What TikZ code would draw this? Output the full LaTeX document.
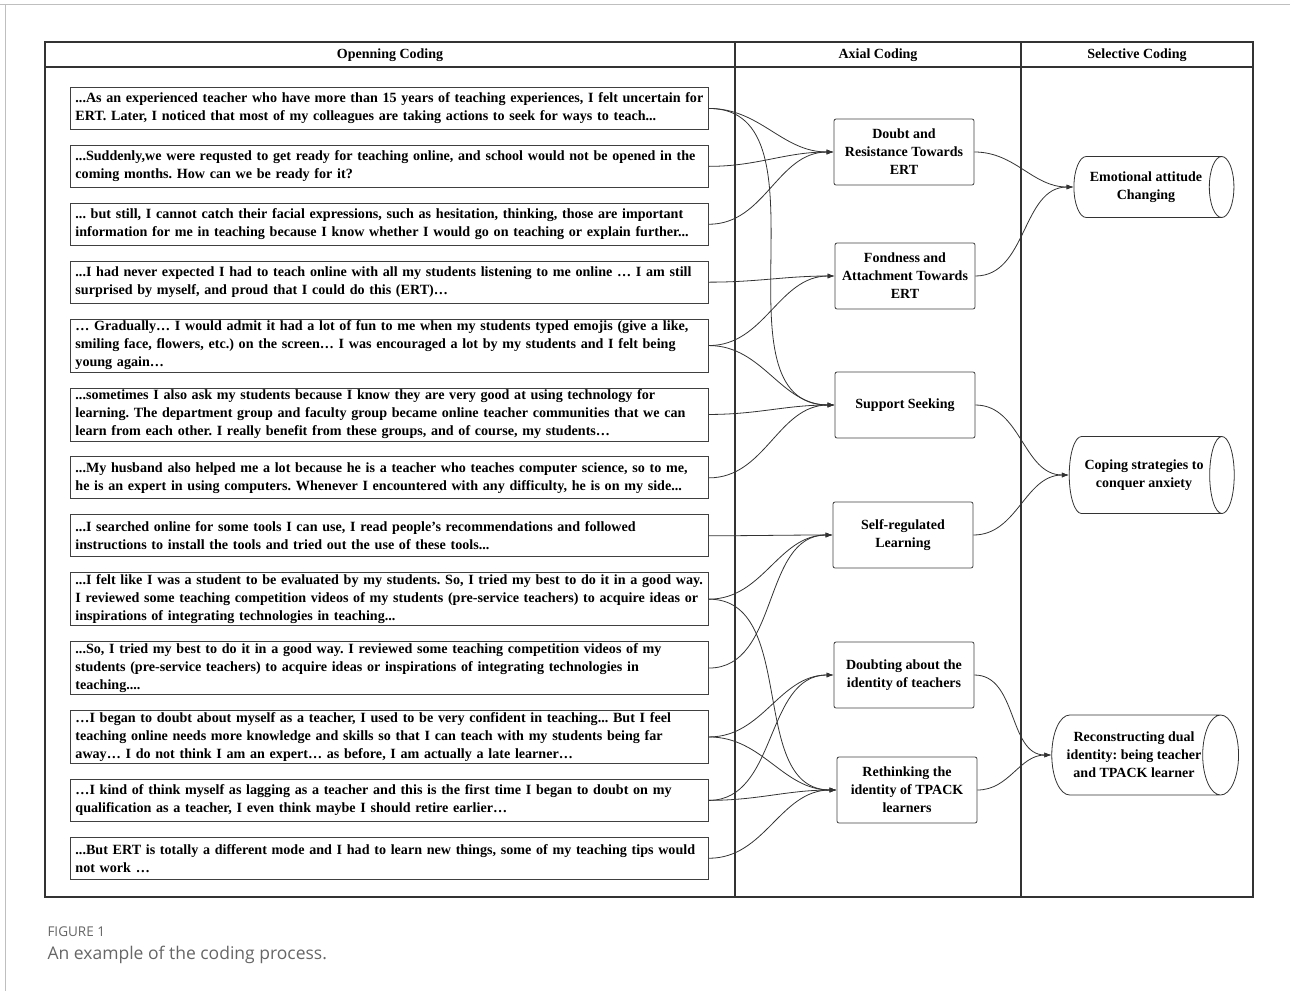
\documentclass[tikz,border=0pt]{standalone}
\usepackage{fontspec}
\setmainfont{Liberation Serif}
\newfontfamily\capfont{Open Sans}
\usetikzlibrary{positioning,arrows.meta,shapes.geometric}
\frenchspacing

\tikzset{
	quotebox/.style={draw=black!75, line width=0.9pt, anchor=north, text width=628pt, inner xsep=5pt, inner ysep=1pt, minimum height=42pt, align=left, font=\fontsize{14.1}{18}\selectfont\bfseries},
	tallquote/.style={quotebox, minimum height=53pt},
	axial/.style={draw=black!75, line width=0.8pt, rounded corners=2pt, minimum width=140pt, minimum height=66pt, inner sep=1pt, align=center, font=\fontsize{14}{18}\selectfont\bfseries},
	selective/.style={cylinder, draw=black!80, line width=0.8pt, aspect=0.75, inner sep=1pt, align=center, font=\fontsize{14}{18}\selectfont\bfseries},
	conn/.style={draw=black!80, line width=0.8pt, -{Latex[length=7pt,width=5pt]}, out=0, in=180},
	heading/.style={font=\fontsize{14}{18}\selectfont\bfseries},
}

\begin{document}
\begin{tikzpicture}[x=1pt, y=-1pt]
	\useasboundingbox (0,0) rectangle (1290,991);
	\draw[black!25, line width=1pt] (0,4) -- (1290,4) (5,4) -- (5,991);
	\draw[black!80, line width=1.1pt] (45,42) rectangle (1253,897);
	\draw[black!80, line width=1.1pt] (45,67) -- (1253,67) (735,42) -- (735,897) (1021,42) -- (1021,897);
	\node[heading] (h1) at (390,55) {Openning Coding};
	\node[heading] (h2) at (878,55) {Axial Coding};
	\node[heading] (h3) at (1137,55) {Selective Coding};

	\node[quotebox, anchor=north west] (q1) at (70,87) {...As an experienced teacher who have more than 15 years of teaching experiences, I felt uncertain for\\ERT. Later, I noticed that most of my colleagues are taking actions to seek for ways to teach...};
	\node[quotebox, below=15pt of q1] (q2) {...Suddenly,we were requsted to get ready for teaching online, and school would not be opened in the\\coming months. How can we be ready for it?};
	\node[quotebox, below=15pt of q2] (q3) {... but still, I cannot catch their facial expressions, such as hesitation, thinking, those are important\\information for me in teaching because I know whether I would go on teaching or explain further...};
	\node[quotebox, below=15pt of q3] (q4) {...I had never expected I had to teach online with all my students listening to me online … I am still\\surprised by myself, and proud that I could do this (ERT)…};
	\node[tallquote, below=15pt of q4] (q5) {… Gradually… I would admit it had a lot of fun to me when my students typed emojis (give a like,\\smiling face, flowers, etc.) on the screen… I was encouraged a lot by my students and I felt being\\young again…};
	\node[tallquote, below=15pt of q5] (q6) {...sometimes I also ask my students because I know they are very good at using technology for\\learning. The department group and faculty group became online teacher communities that we can\\learn from each other. I really benefit from these groups, and of course, my students…};
	\node[quotebox, below=15pt of q6] (q7) {...My husband also helped me a lot because he is a teacher who teaches computer science, so to me,\\he is an expert in using computers. Whenever I encountered with any difficulty, he is on my side...};
	\node[quotebox, below=15pt of q7] (q8) {...I searched online for some tools I can use, I read people’s recommendations and followed\\instructions to install the tools and tried out the use of these tools...};
	\node[tallquote, below=15pt of q8] (q9) {...I felt like I was a student to be evaluated by my students. So, I tried my best to do it in a good way.\\I reviewed some teaching competition videos of my students (pre-service teachers) to acquire ideas or\\inspirations of integrating technologies in teaching...};
	\node[tallquote, below=15pt of q9] (q10) {...So, I tried my best to do it in a good way. I reviewed some teaching competition videos of my\\students (pre-service teachers) to acquire ideas or inspirations of integrating technologies in\\teaching....};
	\node[tallquote, below=15pt of q10] (q11) {…I began to doubt about myself as a teacher, I used to be very confident in teaching... But I feel\\teaching online needs more knowledge and skills so that I can teach with my students being far\\away… I do not think I am an expert… as before, I am actually a late learner…};
	\node[quotebox, below=15pt of q11] (q12) {…I kind of think myself as lagging as a teacher and this is the first time I began to doubt on my\\qualification as a teacher, I even think maybe I should retire earlier…};
	\node[quotebox, below=15pt of q12] (q13) {...But ERT is totally a different mode and I had to learn new things, some of my teaching tips would\\not work …};

	\node[axial] (a1) at (904,152) {Doubt and\\Resistance Towards\\ERT};
	\node[axial] (a2) at (905,276) {Fondness and\\Attachment Towards\\ERT};
	\node[axial] (a3) at (905,405) {Support Seeking};
	\node[axial] (a4) at (903,535) {Self-regulated\\Learning};
	\node[axial] (a5) at (904,675) {Doubting about the\\identity of teachers};
	\node[axial] (a6) at (907,790) {Rethinking the\\identity of TPACK\\learners};

	\node[selective, minimum height=160pt, minimum width=61pt] (s1) at (1146,187) {Emotional attitude\\Changing};
	\node[selective, minimum height=165pt, minimum width=77pt] (s2) at (1144,475) {Coping strategies to\\conquer anxiety};
	\node[selective, minimum height=179pt, minimum width=80pt] (s3) at (1134,755) {Reconstructing dual\\identity: being teacher\\and TPACK learner};

	\draw[conn] (q1.east) to (a1.west);
	\draw[conn] (q2.east) to (a1.west);
	\draw[conn] (q3.east) to (a1.west);
	\draw[conn] (q1.east) to (a3.west);
	\draw[conn] (q4.east) to (a2.west);
	\draw[conn] (q5.east) to (a2.west);
	\draw[conn] (q5.east) to (a3.west);
	\draw[conn] (q6.east) to (a3.west);
	\draw[conn] (q7.east) to (a3.west);
	\draw[conn] (q8.east) to (a4.west);
	\draw[conn] (q9.east) to (a4.west);
	\draw[conn] (q10.east) to (a4.west);
	\draw[conn] (q9.east) to (a6.west);
	\draw[conn] (q11.east) to (a5.west);
	\draw[conn] (q12.east) to (a5.west);
	\draw[conn] (q11.east) to (a6.west);
	\draw[conn] (q12.east) to (a6.west);
	\draw[conn] (q13.east) to (a6.west);
	\draw[conn] (a1.east) to (s1.west);
	\draw[conn] (a2.east) to (s1.west);
	\draw[conn] (a3.east) to (s2.west);
	\draw[conn] (a4.east) to (s2.west);
	\draw[conn] (a5.east) to (s3.west);
	\draw[conn] (a6.east) to (s3.west);

	\node[anchor=west, text=black!60, font=\capfont\fontsize{13.5}{16}\selectfont] (fig) at (44,932) {FIGURE 1};
	\node[anchor=west, text=black!60, font=\capfont\fontsize{17.5}{20}\selectfont] (cap) at (44,955) {An example of the coding process.};
\end{tikzpicture}
\end{document}
